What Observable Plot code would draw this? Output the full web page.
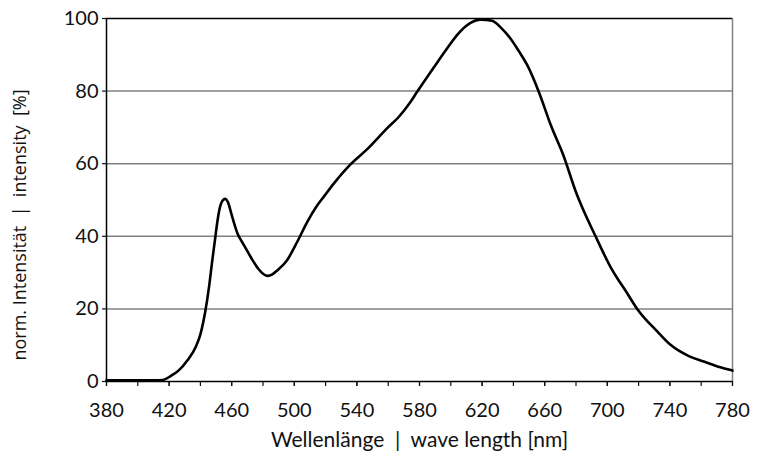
<!DOCTYPE html>
<html>
<head>
<meta charset="utf-8">
<script src="https://cdn.jsdelivr.net/npm/d3@7"></script>
<script src="https://cdn.jsdelivr.net/npm/@observablehq/plot@0.6"></script>
<style>
  html, body { margin: 0; padding: 0; background: #fff; }
  #chart { width: 768px; height: 461px; }
</style>
</head>
<body>
<div id="chart"></div>
<script>
const wavelength = [380, 390, 400, 410, 416, 421, 426, 432, 437, 440, 443, 445.5, 447.5, 449.6, 451, 452.8, 454.5, 456, 457.5, 460.3, 463.7, 466.5, 469.9, 473.5, 477.1, 480, 482.7, 486, 489.1, 495.5, 501.9, 508.3, 514.6, 519, 525.2, 535.9, 546.6, 559.4, 567, 574.2, 578.5, 589.1, 597.7, 604.1, 612.6, 619, 626.4, 632, 638.1, 643.5, 648.8, 656.5, 664, 672.2, 679.7, 692.5, 702, 712.7, 719.1, 731.9, 740.4, 752.1, 761.7, 772.3, 780];
const intensity = [0.3, 0.3, 0.3, 0.3, 0.4, 1.5, 3.0, 6.0, 9.5, 13.0, 19, 26, 33, 40, 44.5, 48.5, 50, 50.3, 49.5, 45.4, 40.8, 38.5, 36, 33.3, 31, 29.7, 29.1, 29.5, 30.6, 33.5, 38.5, 44, 48.5, 51, 54.5, 59.8, 64, 69.8, 73, 77, 79.8, 86.5, 91.8, 95.5, 98.8, 99.7, 99.4, 97.5, 94.5, 91, 87.2, 79.5, 70.5, 62, 52.5, 40, 31.6, 24.3, 20, 13.8, 10.1, 7.0, 5.5, 3.9, 3.0];
const xTicksMinor = [380, 400, 420, 440, 460, 480, 500, 520, 540, 560, 580, 600, 620, 640, 660, 680, 700, 720, 740, 760, 780];
const xTickLabels = [380, 420, 460, 500, 540, 580, 620, 660, 700, 740, 780];
const yTicks = [0, 20, 40, 60, 80, 100];
const yGrid = [20, 40, 60, 80];
const xLabel = "Wellenlänge\u00a0 |\u00a0 wave length [nm]";
const yLabel = "norm. Intensität\u00a0 |\u00a0 intensity\u00a0 [%]";

const data = wavelength.map((w, i) => ({w, v: intensity[i]}));

const chart = Plot.plot({
  width: 768,
  height: 461,
  marginLeft: 106,
  marginRight: 36,
  marginTop: 18,
  marginBottom: 80,
  style: {fontFamily: "Lato, sans-serif", fontSize: "20px", color: "#111", background: "#fff"},
  x: {domain: [380, 780]},
  y: {domain: [0, 100]},
  marks: [
    Plot.gridY(yGrid, {stroke: "#808080", strokeOpacity: 1, strokeWidth: 1.5}),
    Plot.ruleY([100], {stroke: "#000", strokeWidth: 1.5}),
    Plot.ruleX([780], {stroke: "#808080", strokeWidth: 1.5}),
    Plot.axisX({ticks: xTicksMinor, tickSize: 5, tickFormat: () => "", label: null, strokeWidth: 1.2}),
    Plot.axisX({ticks: xTickLabels, tickSize: 5, tickPadding: 16, label: null, strokeWidth: 1.2, fontSize: 20, letterSpacing: "0.5px"}),
    Plot.axisY({ticks: yTicks, tickSize: 4, tickPadding: 4, label: null, strokeWidth: 1.2, fontSize: 20, letterSpacing: "0.5px"}),
    Plot.ruleX([380], {stroke: "#000", strokeWidth: 1.5}),
    Plot.ruleY([0], {stroke: "#000", strokeWidth: 1.5}),
    Plot.line(data, {x: "w", y: "v", stroke: "#000", strokeWidth: 2.6, curve: "monotone-x"}),
    Plot.text([xLabel], {frameAnchor: "bottom", dy: 65, fontSize: 21, fill: "#111", letterSpacing: "0.7px"}),
    Plot.text([yLabel], {frameAnchor: "left", dx: -86, dy: 25, rotate: -90, textAnchor: "middle", fontSize: 18, fontFamily: "Open Sans, sans-serif", fill: "#111", letterSpacing: "0.6px"})
  ]
});
document.getElementById("chart").appendChild(chart);
</script>
</body>
</html>
